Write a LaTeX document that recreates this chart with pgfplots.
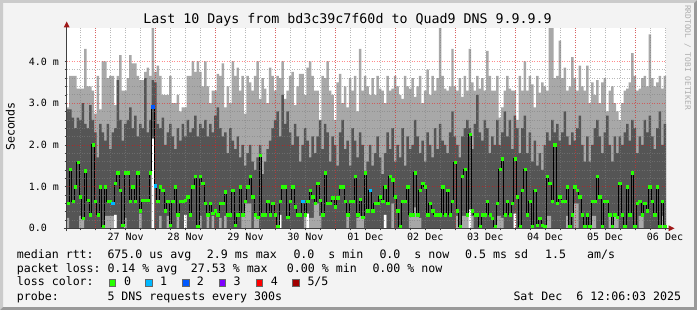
\documentclass[border=0pt]{standalone}
\usepackage{pgfplots}
\pgfplotsset{compat=1.18}
\usepackage{pgfplotstable}
\usepackage{fontspec}
\setmainfont{DejaVu Sans Mono}
\definecolor{bgc}{HTML}{F3F3F3}
\definecolor{shadea}{HTML}{CBCBCB}
\definecolor{shadeb}{HTML}{999999}
\definecolor{smokelight}{HTML}{A8A8A8}
\definecolor{smokedark}{HTML}{555555}
\definecolor{lc0}{HTML}{26FF00}
\definecolor{lc1}{HTML}{00B8FF}
\definecolor{lc2}{HTML}{0059FF}
\definecolor{lc3}{HTML}{7E00FF}
\definecolor{lc4}{HTML}{FF0000}
\definecolor{lc5}{HTML}{A10000}
\definecolor{arrowc}{HTML}{A01818}
\definecolor{axisc}{HTML}{404040}
\definecolor{wmark}{HTML}{AFAFAF}

\pgfplotstableread{
mx hi lo mn md
2.90 2.85 0.25 0 0.60
3.65 2.85 0 0 1.42
3.65 2.65 0 0 0.65
3.65 2.40 0 0 1.00
3.35 2.65 0 0 1.58
3.35 2.60 0.30 0 0.76
3.35 3.00 0.20 0 0.24
4.30 2.50 0 0 1.38
3.40 2.40 0 0 0.68
3.40 2.95 0 0 0.33
3.30 2.60 0 0 2.00
2.75 2.30 0 0 0.65
3.65 1.70 0 0 0.33
2.85 2.50 0 0 1.00
4.00 2.30 0 0 0.04
4.00 2.10 0.30 0 1.00
3.60 2.50 0.30 0 0.65
3.65 1.90 0.30 0 0.65
3.65 2.30 0.30 0 0.60
2.95 2.40 0.32 0.32 1.08
3.65 3.55 0 0 1.33
4.15 2.60 0 0 0.92
3.30 2.10 0 0 0.08
3.30 2.50 0.25 0 1.33
3.60 2.60 0 0 1.33
4.15 2.90 0 0 0.65
3.95 2.40 0 0 1.00
3.95 2.70 0 0 0.65
3.65 2.20 0 0 1.33
3.55 2.50 0.35 0 0.42
3.55 2.40 0 0 0.68
3.75 3.60 0 0 0.68
3.85 2.30 0 0 0.68
3.65 2.60 0 0 1.33
4.80 3.55 2.15 2.15 2.91
3.75 3.50 0 0 1.02
3.90 2.50 0 0 0.65
3.65 2.40 0.30 0 1.00
3.20 2.65 0 0 0.92
3.20 2.00 0 0 0.42
3.20 2.30 0.30 0 0.65
3.65 2.50 0 0 0.08
3.00 2.20 0 0 0.65
3.00 1.90 0 0 1.00
3.20 2.40 0.30 0 0.33
2.80 2.10 0 0 0.65
2.90 2.50 0 0 0.65
2.90 2.20 0.32 0.32 0.68
3.65 2.60 0 0 0.76
3.65 2.30 0 0 0.33
4.00 2.40 0 0 1.00
3.75 2.70 0 0 1.25
4.00 2.20 0 0 0.04
3.75 2.50 0.30 0 1.25
3.40 2.40 0 0 1.08
4.00 2.60 0 0 0.60
3.40 2.20 0.30 0 0.33
3.00 2.50 0 0 0.60
3.30 2.30 0.30 0 0.36
3.30 2.70 0 0 0.42
3.70 2.90 0 0 0.33
3.65 2.40 0.25 0 0.60
3.95 2.20 0 0 0.60
2.90 2.30 0.30 0 0.88
3.40 1.80 0 0 0.33
3.00 2.40 0 0 0.33
4.00 2.10 0 0 0.92
3.65 1.90 0 0 0.08
3.85 2.20 0 0 0.33
3.30 1.70 0 0 1.00
3.65 2.00 0.30 0 0.33
2.75 1.50 0.60 0 0.65
3.65 1.80 0.60 0 1.00
3.50 2.00 0.60 0 1.25
3.30 1.60 0 0 0.76
3.65 1.40 0.30 0 0.33
4.00 1.70 0.25 0 0.26
3.10 2.00 0 0 1.75
3.60 1.30 0 0 0.33
3.35 1.60 0 0 0.33
3.00 1.90 0 0 0.65
3.85 2.10 0 0 0.33
3.65 2.40 0 0 0.60
3.30 2.60 0 0 0.33
3.65 2.80 0 0 0.04
3.60 2.20 0.32 0.32 0.65
4.00 3.20 0 0 1.00
3.10 2.50 0 0 1.00
3.30 2.80 0 0 0.26
3.65 2.30 0 0 0.65
3.75 2.00 0 0 1.00
2.95 2.50 0 0 0.52
3.40 2.20 0 0 0.33
3.70 1.60 0 0 0.33
3.70 2.00 0 0 0.65
3.20 2.40 0.30 0 0.33
3.85 2.10 0.35 0.35 0.65
4.00 1.70 0.25 0 0.92
3.65 2.20 0.25 0 0.76
3.30 1.80 0.60 0 0.60
3.30 2.20 0.60 0 1.08
2.60 2.60 0.30 0 0.68
3.65 1.90 0 0 0.33
3.60 2.50 0 0 1.33
4.00 2.30 0 0 0.60
3.30 1.60 0 0 0.60
3.20 2.20 0 0 0.73
2.60 2.00 0 0 0.52
3.50 1.50 0 0 0.73
3.70 2.30 0 0 1.00
3.00 2.60 0 0 1.00
3.40 1.90 0 0 0.65
2.90 2.10 0.30 0 0.33
3.60 1.50 0 0 0.65
3.30 2.40 0 0 0.65
3.65 2.10 0 0 1.25
2.80 1.70 0.25 0 0.33
4.30 2.30 0.30 0 0.70
3.30 2.00 0.25 0 0.26
3.65 1.30 0 0 1.33
3.40 1.60 0 0 0.42
3.20 2.00 0 0 0.92
3.60 1.50 0 0 0.42
3.20 1.80 0 0 0.60
3.65 2.20 0 0 0.60
3.35 1.70 0 0 0.76
3.30 1.30 0 0 0.65
3.00 1.80 0.32 0.32 1.00
3.65 2.30 0 0 0.60
3.30 1.90 0 0 1.25
3.35 2.40 0.60 0 1.16
3.65 1.60 0 0 0.76
3.40 2.00 0 0 0.42
3.20 1.70 0 0 0.04
3.10 2.40 0 0 0.65
3.65 1.50 0 0 0.65
3.40 2.20 0 0 1.00
3.35 1.90 0.30 0 0.33
3.60 2.00 0.30 0 0.33
3.15 2.60 0.50 0 1.33
3.40 2.20 0.30 0 0.33
3.65 1.80 0.25 0 0.92
3.00 2.10 0 0 1.08
3.30 1.60 0 0 1.00
3.80 2.30 0 0 0.33
3.20 2.00 0 0 0.60
3.65 1.70 0 0 0.42
3.30 2.40 0 0 0.33
3.60 1.90 0 0 0.33
4.80 2.50 0 0 0.33
3.65 2.10 0 0 1.00
3.35 2.00 0 0 0.33
3.30 1.80 0 0 0.92
3.40 2.30 0 0 0.33
4.30 2.80 0 0 0.65
3.40 2.20 0 0 1.58
3.30 2.00 0.30 0 0.42
3.60 1.70 0 0 0.04
3.15 2.20 0.30 0 1.25
3.65 2.40 0.30 0 1.41
3.30 2.60 0.30 0 0.33
4.30 2.40 0.45 0.45 2.25
3.50 1.90 0.30 0 0.42
3.30 2.50 0 0 0.33
3.65 3.20 0 0 0.33
3.35 2.30 0 0 0.04
3.60 2.10 0 0 0.33
3.30 2.60 0 0 0.33
4.25 2.40 0 0 0.65
3.65 1.80 0 0 0.33
3.30 2.20 0 0 0.24
3.30 2.00 0 0 0.04
3.65 2.60 0.30 0 0.60
2.65 2.00 0.30 0 1.41
2.90 2.30 0.25 0 1.67
3.30 2.80 0 0 0.33
3.65 2.20 0 0 0.65
3.35 2.60 0 0 0.33
3.30 1.90 0 0 0.60
3.30 2.70 0.35 0.35 1.67
2.60 2.40 0 0 0.76
3.65 1.80 0 0 0.04
3.30 2.40 0 0 0.92
4.00 2.70 0 0 1.41
3.30 1.80 0 0 0.33
3.65 2.30 0 0 0.65
3.45 1.60 0 0 0.04
2.90 2.10 0 0 0.92
3.65 1.50 0 0 0.08
3.25 1.80 0 0 0.24
3.50 1.40 0 0 0.08
3.40 2.00 0 0 0.04
3.30 2.30 0.30 0 1.25
4.80 2.10 0.30 0 1.08
4.80 2.60 0 0 0.65
3.60 2.30 0 0 2.00
3.65 2.50 0 0 0.60
4.50 2.10 0 0 0.76
3.60 2.30 0 0 0.65
3.85 2.80 0 0 0.65
3.30 2.20 0.30 0 1.00
3.40 2.00 0 0 0.04
4.10 2.30 0 0 0.33
3.60 2.10 0.60 0 1.00
3.30 2.40 0.60 0 0.92
3.90 2.70 0 0 0.76
3.40 2.00 0 0 0.33
3.30 1.60 0 0 0.04
3.90 2.20 0 0 0.33
3.00 1.60 0 0 0.04
3.50 2.00 0.30 0 0.65
3.20 2.40 0.30 0 0.65
3.55 2.60 0 0 1.25
3.00 2.20 0 0 0.76
3.50 1.80 0 0 0.04
3.60 2.30 0 0 0.65
2.80 2.70 0 0 0.65
3.30 2.00 0.30 0 0.33
3.40 1.60 0 0 0.04
3.00 2.20 0.30 0 0.33
2.80 1.80 0.25 0 0.26
2.60 2.20 0 0 1.08
3.00 2.00 0 0 0.33
3.30 2.30 0 0 0.04
3.35 2.50 0 0 1.00
3.50 2.10 0 0 0.33
4.20 2.60 0 0 1.33
3.65 2.40 0 0 0.04
3.30 1.80 0 0 0.60
3.35 2.20 0.30 0 0.65
3.60 2.00 0.30 0 0.33
3.65 2.60 0 0 0.60
3.40 2.30 0 0 0.42
4.65 2.70 0 0 1.00
3.60 2.20 0 0 0.65
3.40 1.90 0 0 0.33
3.50 2.40 0 0 1.00
3.65 2.80 0 0 0.04
3.35 2.00 0.30 0 0.65
3.65 2.50 0 0 0.04
3.65 2.50 0 0 0.04
}\smoke

\newcommand\lgf{\fontsize{11.6}{14}\selectfont}

\begin{document}
\begin{tikzpicture}[x=1pt,y=1pt]
\fill[bgc] (0,0) rectangle (697,-310);
\fill[shadea] (0,0) -- (697,0) -- (694,-3) -- (3,-3) -- (3,-307) -- (0,-310) -- cycle;
\fill[shadeb] (697,0) -- (697,-310) -- (0,-310) -- (3,-307) -- (694,-307) -- (694,-3) -- cycle;

\begin{axis}[
  at={(66.7pt,-228.3pt)}, anchor=south west,
  scale only axis, width=599.3pt, height=200.3pt,
  xmin=0, xmax=240, ymin=0, ymax=4.8,
  axis background/.style={fill=white},
  axis on top,
  axis x line*=bottom, axis y line*=left,
  axis line style={axisc, line width=0.8pt},
  xtick={23.6,47.6,71.6,95.6,119.6,143.6,167.6,191.6,215.6,239.6},
  xticklabels={27 Nov,28 Nov,29 Nov,30 Nov,01 Dec,02 Dec,03 Dec,04 Dec,05 Dec,06 Dec},
  minor xtick={5.6,11.6,17.6,23.6,29.6,35.6,41.6,47.6,53.6,59.6,65.6,71.6,77.6,83.6,89.6,95.6,101.6,107.6,113.6,119.6,125.6,131.6,137.6,143.6,149.6,155.6,161.6,167.6,173.6,179.6,185.6,191.6,197.6,203.6,209.6,215.6,221.6,227.6,233.6,239.6},
  extra x ticks={11.6,35.6,59.6,83.6,107.6,131.6,155.6,179.6,203.6,227.6},
  extra x tick labels={},
  extra x tick style={grid=major},
  xmajorgrids=false, xminorgrids=true, ymajorgrids=true, yminorgrids=true,
  ytick={0,1,2,3,4},
  yticklabels={0.0,1.0 m,2.0 m,3.0 m,4.0 m},
  minor y tick num=4,
  minor grid style={draw=gray, opacity=0.55, line width=0.6pt, dash pattern=on 1pt off 1.5pt},
  major grid style={draw=red, opacity=0.45, line width=0.6pt, dash pattern=on 1pt off 1.5pt},
  tick align=outside, major tick length=2pt, minor tick length=2pt,
  tick style={axisc, line width=0.5pt},
  xticklabel style={font=\fontsize{10}{12}\selectfont, anchor=base, inner sep=0pt, yshift=-10.5pt},
  yticklabel style={font=\fontsize{10}{12}\selectfont, anchor=west, inner sep=0pt, xshift=-36pt},
]
\addplot[const plot, draw=none, fill=smokelight] table[x expr=\coordindex, y=mx] {\smoke} \closedcycle;
\addplot[const plot, draw=none, fill=smokedark] table[x expr=\coordindex, y=hi] {\smoke} \closedcycle;
\addplot[const plot, draw=none, fill=smokelight] table[x expr=\coordindex, y=lo] {\smoke} \closedcycle;
\addplot[const plot, draw=none, fill=white] table[x expr=\coordindex, y=mn] {\smoke} \closedcycle;
\addplot[const plot, black, line width=0.7pt] table[x expr=\coordindex, y=md] {\smoke};
\addplot[only marks, mark=square*, mark size=1.2pt, color=lc0, skip coords between index={240}{241}] table[x expr=\coordindex+0.5, y=md] {\smoke};
\addplot[only marks, mark=square*, mark size=1.2pt, color=lc1] coordinates {(18.5,0.60) (35.5,1.02) (94.5,0.65) (121.5,0.92)};
\addplot[only marks, mark=square*, mark size=1.2pt, color=lc2] coordinates {(34.5,2.91)};
\end{axis}

% axis extensions and arrows
\draw[axisc, line width=0.8pt] (63.7,-228.3) -- (669.5,-228.3);
\fill[arrowc] (674.5,-228.3) -- (668.5,-225.3) -- (668.5,-231.3) -- cycle;
\draw[axisc, line width=0.8pt] (66.7,-231.3) -- (66.7,-27);
\fill[arrowc] (66.7,-21.5) -- (63.7,-27.5) -- (69.7,-27.5) -- cycle;

% title and labels
\node[anchor=base, inner sep=0] at (347.5,-24) {\fontsize{13.3}{16}\selectfont Last 10 Days from bd3c39c7f60d to Quad9 DNS 9.9.9.9};
\node[rotate=90, inner sep=0] at (10.3,-126.5) {\lgf Seconds};
\node[rotate=-90, inner sep=0, text=wmark] at (687.7,-57.5) {\fontsize{7.9}{9}\selectfont RRDTOOL / TOBI OETIKER};

% legend
\node[anchor=base west, inner sep=0] at (16.7,-258.3) {\lgf median rtt:};
\node[anchor=base west, inner sep=0] at (107.3,-258.3) {\lgf 675.0 us avg};
\node[anchor=base west, inner sep=0] at (206.7,-258.3) {\lgf 2.9 ms max};
\node[anchor=base west, inner sep=0] at (293.3,-258.3) {\lgf 0.0~~s min};
\node[anchor=base west, inner sep=0] at (379.3,-258.3) {\lgf 0.0~~s now};
\node[anchor=base west, inner sep=0] at (465,-258.3) {\lgf 0.5 ms sd};
\node[anchor=base west, inner sep=0] at (545,-258.3) {\lgf 1.5~~~am/s};

\node[anchor=base west, inner sep=0] at (16.7,-272.3) {\lgf packet loss:};
\node[anchor=base west, inner sep=0] at (107.3,-272.3) {\lgf 0.14 \% avg};
\node[anchor=base west, inner sep=0] at (190.7,-272.3) {\lgf 27.53 \% max};
\node[anchor=base west, inner sep=0] at (286.7,-272.3) {\lgf 0.00 \% min};
\node[anchor=base west, inner sep=0] at (372.3,-272.3) {\lgf 0.00 \% now};

\node[anchor=base west, inner sep=0] at (16.7,-286) {\lgf loss color:};
\filldraw[fill=lc0, draw=black!60, line width=0.5pt] (109,-279.3) rectangle (115.7,-286);
\node[anchor=base west, inner sep=0] at (124,-286) {\lgf 0};
\filldraw[fill=lc1, draw=black!60, line width=0.5pt] (145.7,-279.3) rectangle (152.4,-286);
\node[anchor=base west, inner sep=0] at (160,-286) {\lgf 1};
\filldraw[fill=lc2, draw=black!60, line width=0.5pt] (182.3,-279.3) rectangle (189,-286);
\node[anchor=base west, inner sep=0] at (196.7,-286) {\lgf 2};
\filldraw[fill=lc3, draw=black!60, line width=0.5pt] (219,-279.3) rectangle (225.7,-286);
\node[anchor=base west, inner sep=0] at (233.3,-286) {\lgf 3};
\filldraw[fill=lc4, draw=black!60, line width=0.5pt] (256,-279.3) rectangle (262.7,-286);
\node[anchor=base west, inner sep=0] at (270.7,-286) {\lgf 4};
\filldraw[fill=lc5, draw=black!60, line width=0.5pt] (292.7,-279.3) rectangle (299.4,-286);
\node[anchor=base west, inner sep=0] at (307.3,-286) {\lgf 5/5};

\node[anchor=base west, inner sep=0] at (16.7,-300) {\lgf probe:};
\node[anchor=base west, inner sep=0] at (107.3,-300) {\lgf 5 DNS requests every 300s};
\node[anchor=base west, inner sep=0] at (513.3,-300) {\lgf Sat Dec~~6 12:06:03 2025};
\end{tikzpicture}
\end{document}
